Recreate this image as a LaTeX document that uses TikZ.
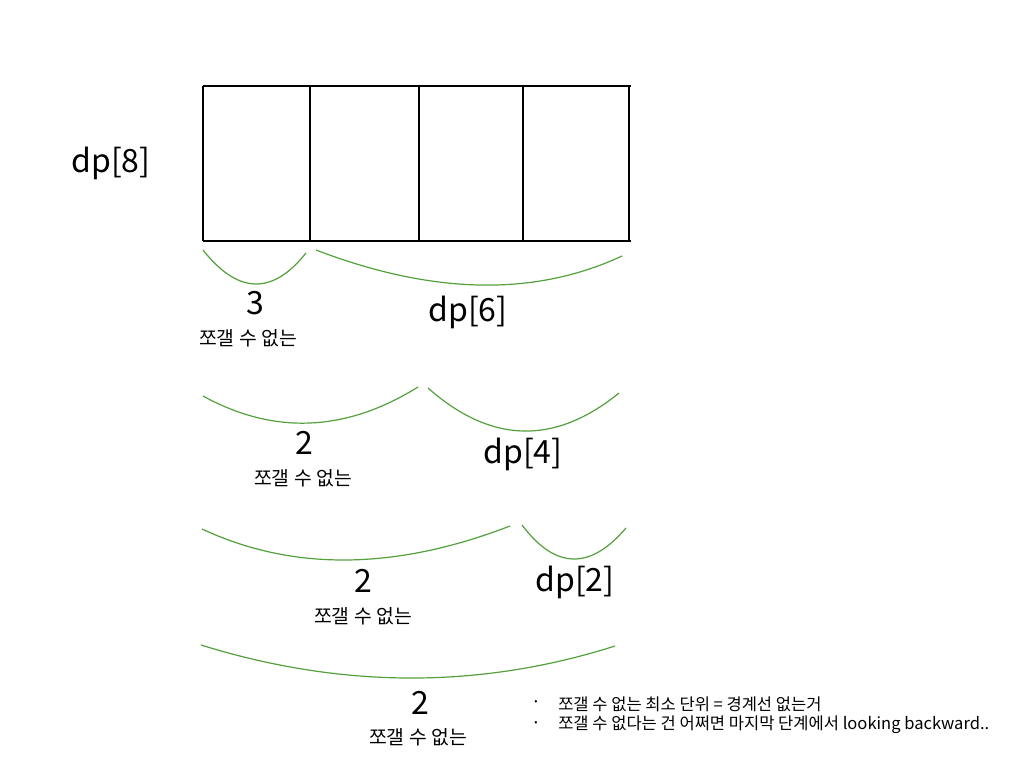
\documentclass[tikz,border=0pt]{standalone}
\usepackage{fontspec}
\setmainfont{Noto Sans CJK KR}
\definecolor{arcgreen}{RGB}{84,160,60}
\begin{document}
\begin{tikzpicture}[x=0.75pt,y=-0.75pt,
  gridline/.style={line width=1.5pt,black},
  arcline/.style={line width=0.9pt,arcgreen},
  big/.style={inner sep=0pt,font=\fontsize{24}{28}\selectfont},
  small/.style={inner sep=0pt,font=\fontsize{14.5}{17}\selectfont},
  note/.style={inner sep=0pt,anchor=west,font=\fontsize{12.4}{15}\selectfont},
  bullet/.style={inner sep=0pt,font=\fontsize{7}{8}\selectfont}]
\fill[white] (0,0) rectangle (1024,768);
\useasboundingbox (0,0) rectangle (1024,768);
% grid
\draw[gridline] (203,86) -- (631,86);
\draw[gridline] (203,241) -- (631,241);
\foreach \x in {203,310,419,523,629} \draw[gridline] (\x,86) -- (\x,241);
\node[big] (dp8) at (111,163) {dp[8]};
% row 1
\draw[arcline] (203,250) .. controls (238,294.3) and (272.3,295.3) .. (306,253);
\draw[arcline] (316,250) .. controls (432.7,294.7) and (534.7,296.7) .. (622,256);
\node[big] (n3) at (255,303) {3};
\node[small] (l1) at (248,338) {쪼갤 수 없는};
\node[big] (dp6) at (468,312) {dp[6]};
% row 2
\draw[arcline] (203,396) .. controls (274,435) and (345.7,432) .. (418,387);
\draw[arcline] (428,388) .. controls (491,443.7) and (554.7,445.3) .. (619,393);
\node[big] (n2a) at (304,443) {2};
\node[small] (l2) at (303,478) {쪼갤 수 없는};
\node[big] (dp4) at (523,454) {dp[4]};
% row 3
\draw[arcline] (202,529) .. controls (292.7,571.3) and (395.3,570.3) .. (510,526);
\draw[arcline] (522,525) .. controls (555.3,569.3) and (590,570.3) .. (626,528);
\node[big] (n2b) at (363,581) {2};
\node[small] (l3) at (363,616) {쪼갤 수 없는};
\node[big] (dp2) at (575,582) {dp[2]};
% row 4
\draw[arcline] (201,645) .. controls (341.7,688.7) and (479.7,689) .. (615,646);
\node[big] (n2c) at (420,703) {2};
\node[small] (l4) at (418,737) {쪼갤 수 없는};
% notes
\node[bullet] (b1) at (536,702) {•};
\node[bullet] (b2) at (536,723) {•};
\node[note] (t1) at (558,704) {쪼갤 수 없는 최소 단위 = 경계선 없는거};
\node[note] (t2) at (558,725) {쪼갤 수 없다는 건 어쩌면 마지막 단계에서 looking backward..};
\end{tikzpicture}
\end{document}
